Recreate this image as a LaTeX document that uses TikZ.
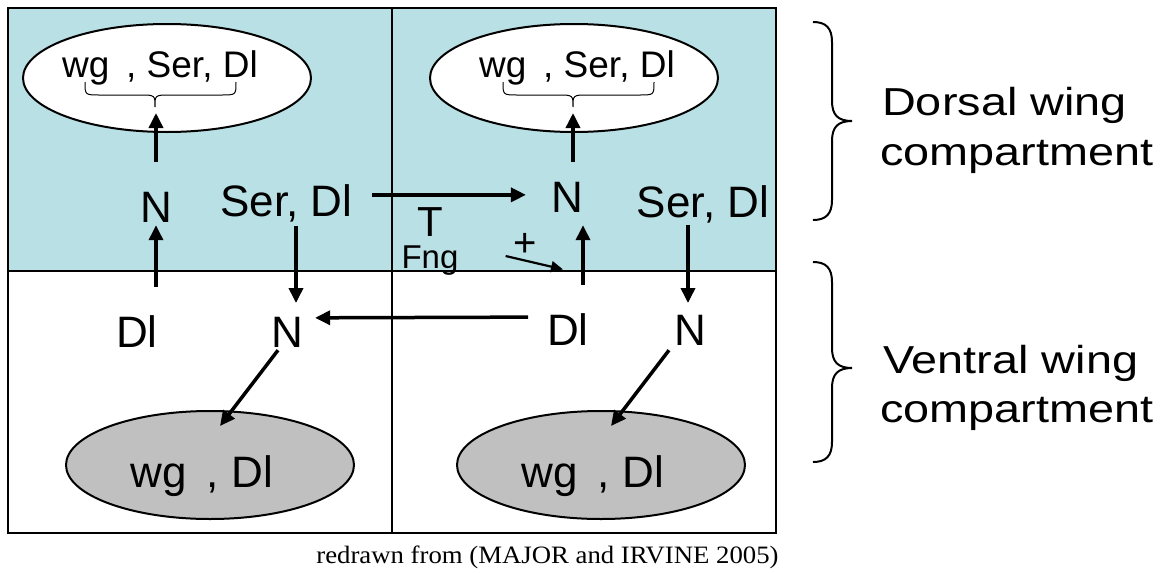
\documentclass[tikz,border=0pt]{standalone}
\usepackage{fontspec}
\setmainfont{Liberation Sans}
\newfontfamily\capfont{Liberation Serif}
\usetikzlibrary{arrows.meta,calc,shapes.geometric}
\definecolor{dorsalfill}{RGB}{185,224,228}
\definecolor{ventralfill}{RGB}{192,192,192}
\tikzset{
  lbl/.style={inner sep=0pt, anchor=base, font=\fontsize{44}{52}\selectfont},
  gene/.style={ellipse, draw, line width=2pt, inner sep=0pt,
               minimum width=288pt, minimum height=108pt},
  arr/.style={line width=3.5pt, -{Triangle[length=15pt,width=14pt]}},
  thinarr/.style={line width=2.2pt, -{Triangle[length=12pt,width=11pt]}},
  sidebrace/.style={line width=2pt},
  side/.style={inner sep=0pt, anchor=base west, font=\fontsize{39}{48}\selectfont},
  pics/sbrace/.style={code={
    \draw[line width=1pt] (-70,-25) .. controls (-70,-12) .. (-55,-12) -- (-15,-12)
      .. controls (0,-12) .. (0,0) .. controls (0,-12) .. (15,-12) -- (66,-12)
      .. controls (81,-12) .. (81,-25);
  }}
}
\newcommand{\hstretch}[1]{\scalebox{1.2}[1]{#1}}
\newcommand{\wggap}{\hspace{0.45em}}
\begin{document}
\begin{tikzpicture}[x=1pt,y=-1pt]
\useasboundingbox (0,0) rectangle (1171,573);

% compartments
\fill[dorsalfill] (8,8) rectangle (776,271);
\draw[line width=2.5pt] (8,8) rectangle (776,533);
\draw[line width=2.5pt] (8,271) -- (776,271);
\draw[line width=2.5pt] (392,8) -- (392,533);

% target gene ellipses
\node[gene, fill=white] (eTL) at (167,78) {};
\node[gene, fill=white] (eTR) at (574,78) {};
\node[gene, fill=ventralfill] (eBL) at (210,465) {};
\node[gene, fill=ventralfill] (eBR) at (601,465) {};

\node[lbl, font=\fontsize{37}{44}\selectfont] (tTL) at (160,77) {wg\wggap, Ser, Dl};
\node[lbl, font=\fontsize{37}{44}\selectfont] (tTR) at (577,77) {wg\wggap, Ser, Dl};
\node[lbl] (tBL) at (202,487) {wg\wggap, Dl};
\node[lbl] (tBR) at (593,487) {wg\wggap, Dl};

\coordinate (bTL) at (155,107);
\coordinate (bTR) at (573,107);
\pic at (bTL) {sbrace};
\pic at (bTR) {sbrace};

% signalling components
\node[lbl] (nTL) at (156,222) {N};
\node[lbl] (serTL) at (286.5,216) {Ser, Dl};
\node[lbl] (nTR) at (567,212) {N};
\node[lbl] (serTR) at (703,217) {Ser, Dl};
\node[lbl] (dlL) at (137,347) {Dl};
\node[lbl] (nBL) at (287,347) {N};
\node[lbl] (dlR) at (568,345) {Dl};
\node[lbl] (nBR) at (690,345) {N};

\node[lbl, font=\fontsize{42}{50}\selectfont] (tee) at (430,236) {T};
\node[lbl, font=\fontsize{33}{40}\selectfont] (fng) at (430,268) {Fng};
\node[lbl, font=\fontsize{40}{48}\selectfont] (plus) at (525,256) {+};

% interactions
\draw[arr, shorten <=30pt, shorten >=6pt] (nTL.north) -- (nTL.north |- bTL);
\draw[arr, shorten <=28pt, shorten >=3pt] (dlL.north -| nTL) -- (nTL.south);
\draw[arr] ($(serTL.south)+(9.5,4)$) -- ($(nBL.north)+(9,-13.5)$);
\draw[arr, shorten <=19pt, shorten >=25pt] ($(serTL.east |- nTR)+(0,-2)$) -- ($(nTR.west)+(0,-2)$);
\draw[arr, shorten <=20pt, shorten >=6pt] (nTR.north -| bTR) -- (bTR);
\draw[arr] ($(dlR.north)+(15,-28)$) -- ($(nTR.south)+(16,13)$);
\draw[thinarr] ($(fng.base east)+(47,-12)$) -- ($(dlR.north)+(-5,-43.5)$);
\draw[arr] ($(serTR.south)+(-15,2)$) -- ($(nBR.north)+(-2,-11.5)$);
\draw[arr, shorten <=19pt, shorten >=12pt] ($(dlR.west)+(0,-12)$) -- ($(nBL.east)+(0,-14)$);
\draw[arr] ($(nBL.south)+(-9,3)$) -- ($(eBL.north)+(10,16)$);
\draw[arr] ($(nBR.south)+(-21,5)$) -- ($(eBR.north)+(10,16)$);

% compartment braces and labels
\draw[sidebrace] (813,22) .. controls (826,22) and (832,28) .. (832,42) -- (832,101)
  .. controls (832,115) and (838,121) .. (852,121)
  .. controls (838,121) and (832,127) .. (832,141) -- (832,200)
  .. controls (832,214) and (826,220) .. (813,220);
\draw[sidebrace] (813,262) .. controls (826,262) and (832,268) .. (832,282) -- (832,348)
  .. controls (832,362) and (838,368) .. (852,368)
  .. controls (838,368) and (832,374) .. (832,388) -- (832,442)
  .. controls (832,456) and (826,462) .. (813,462);

\node[side] (dors1) at (882,115) {\hstretch{Dorsal wing}};
\node[side] (dors2) at (880,165) {\hstretch{compartment}};
\node[side] (vent1) at (883,373) {\hstretch{Ventral wing}};
\node[side] (vent2) at (880,422) {\hstretch{compartment}};

% source
\node[inner sep=0pt, anchor=base, font=\capfont\fontsize{25}{30}\selectfont] (src) at (547.5,563)
  {\scalebox{1.07}[1]{redrawn from (MAJOR and IRVINE 2005)}};
\end{tikzpicture}
\end{document}
